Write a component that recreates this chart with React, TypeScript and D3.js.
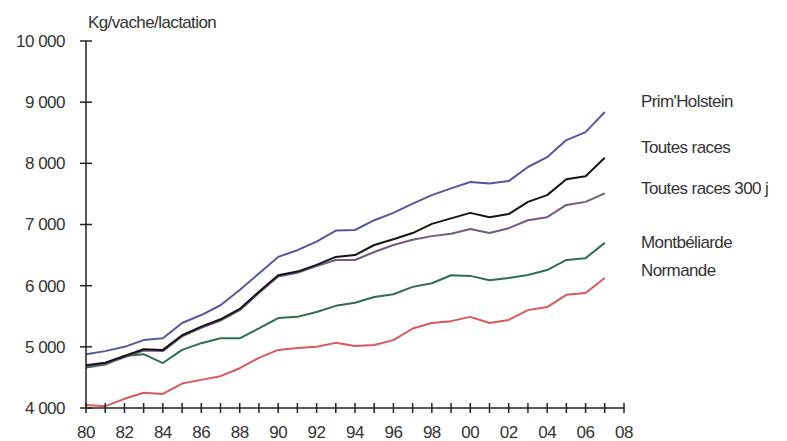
import React from "react";
import * as d3 from "d3";

const years = d3.range(1980, 2008);
const xTickYears = d3.range(1980, 2009);
const xLabelYears = d3.range(1980, 2009, 2);
const yTicks = [4000, 5000, 6000, 7000, 8000, 9000, 10000];

const primHolstein = [4880, 4930, 5000, 5110, 5140, 5390, 5520, 5680, 5930, 6200, 6470, 6580, 6720, 6900, 6910, 7070, 7190, 7340, 7480, 7590, 7695, 7670, 7710, 7940, 8100, 8380, 8510, 8840];
const toutesRaces = [4700, 4740, 4850, 4960, 4950, 5190, 5330, 5450, 5620, 5900, 6170, 6230, 6340, 6470, 6500, 6665, 6760, 6860, 7010, 7100, 7190, 7120, 7170, 7370, 7480, 7740, 7790, 8090];
const toutesRaces300 = [4680, 4720, 4830, 4940, 4930, 5170, 5310, 5430, 5600, 5880, 6150, 6210, 6320, 6420, 6420, 6550, 6665, 6750, 6810, 6850, 6925, 6860, 6940, 7070, 7120, 7320, 7370, 7510];
const montbeliarde = [4660, 4710, 4850, 4880, 4735, 4950, 5060, 5140, 5140, 5300, 5470, 5490, 5570, 5670, 5720, 5815, 5860, 5980, 6040, 6170, 6160, 6090, 6125, 6175, 6255, 6420, 6450, 6700];
const normande = [4050, 4030, 4150, 4250, 4230, 4400, 4460, 4520, 4650, 4820, 4950, 4980, 5000, 5065, 5015, 5030, 5110, 5300, 5390, 5420, 5490, 5390, 5440, 5600, 5650, 5850, 5880, 6125];

const seriesNames = ["Prim'Holstein", "Toutes races", "Toutes races 300 j", "Montbéliarde", "Normande"];
const seriesValues = [primHolstein, toutesRaces, toutesRaces300, montbeliarde, normande];
const seriesColors = ["#57579e", "#151515", "#76597f", "#2f6e4e", "#d9595d"];
const drawOrder = [4, 3, 0, 2, 1];
const labelY = [101, 147, 188, 242, 270];

const fmt = (v: number) => {
  const s = String(v);
  return s.length > 3 ? s.slice(0, s.length - 3) + "\u00a0" + s.slice(s.length - 3) : s;
};

export default function App() {
  const W = 787, H = 441;
  const x = d3.scaleLinear().domain([1980, 2008]).range([86, 624]);
  const y = d3.scaleLinear().domain([4000, 10000]).range([408, 41]);
  const line = d3.line<number>().x((_, i) => x(years[i])).y(d => y(d)).curve(d3.curveLinear);
  const font = "'Liberation Sans', Arial, sans-serif";

  return (
    <svg width={W} height={H} style={{ position: "absolute", left: 0, top: 0, background: "#fff" }} fontFamily={font}>
      <rect x={0} y={0} width={W} height={H} fill="#fff" />
      {/* y axis label */}
      <text x={88} y={28} fontSize={17} fill="#333" letterSpacing={-0.6}>Kg/vache/lactation</text>
      {/* lines */}
      {drawOrder.map(k => (
        <path key={k} d={line(seriesValues[k]) || ""} fill="none" stroke={seriesColors[k]} strokeWidth={2} strokeLinejoin="round" />
      ))}
      {/* y axis */}
      <line x1={x(1980)} x2={x(1980)} y1={y(10000)} y2={y(4000)} stroke="#222" strokeWidth={1.5} />
      {yTicks.map(t => (
        <g key={t}>
          <line x1={x(1980) - 6} x2={x(1980) + 6} y1={y(t)} y2={y(t)} stroke="#222" strokeWidth={1.5} />
          <text x={65} y={y(t)} dy="0.35em" textAnchor="end" fontSize={17} fill="#333" letterSpacing={-0.5}>{fmt(t)}</text>
        </g>
      ))}
      {/* x axis */}
      <line x1={x(1980)} x2={x(2008)} y1={y(4000)} y2={y(4000)} stroke="#222" strokeWidth={1.5} />
      {xTickYears.map(t => (
        <line key={t} x1={x(t)} x2={x(t)} y1={y(4000) - 5} y2={y(4000) + 5} stroke="#222" strokeWidth={1.5} />
      ))}
      {xLabelYears.map(t => (
        <text key={t} x={x(t)} y={438} textAnchor="middle" fontSize={17} fill="#333" letterSpacing={-0.5}>{String(t).slice(2)}</text>
      ))}
      {/* series labels */}
      {seriesNames.map((n, i) => (
        <text key={n} x={641} y={labelY[i]} dy="0.35em" fontSize={17} fill="#333" letterSpacing={-0.6}>{n}</text>
      ))}
    </svg>
  );
}
